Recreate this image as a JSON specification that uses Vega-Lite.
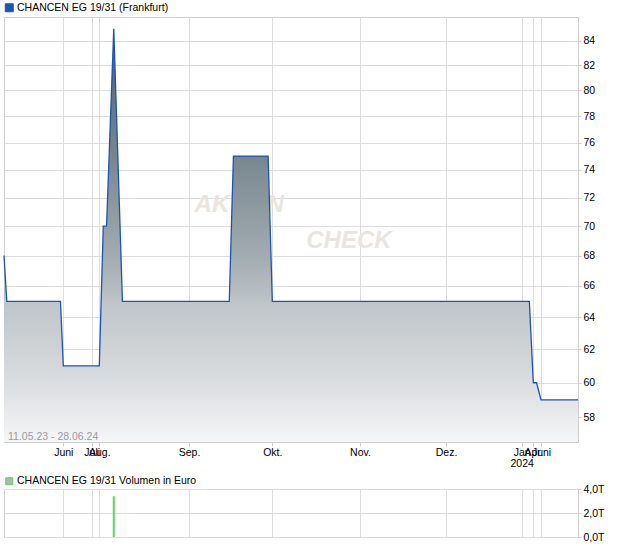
{
  "$schema": "https://vega.github.io/schema/vega-lite/v6.json",
  "background": "white",
  "padding": {"left": 0, "top": 2, "right": 0, "bottom": 0},
  "spacing": 6,
  "config": {
    "font": "Liberation Sans",
    "view": {"stroke": "#cfcfcf"},
    "axis": {"labelFont": "Liberation Sans", "labelFontSize": 10.5, "labelColor": "#000000", "gridColor": "#dddddd", "tickColor": "#cfcfcf", "domain": false, "title": null},
    "legend": {"labelFont": "Liberation Sans", "labelFontSize": 10.5, "labelColor": "#000000", "labelLimit": 400}
  },
  "resolve": {"scale": {"color": "independent", "x": "independent", "y": "independent"}, "legend": {"color": "independent"}},
  "datasets": {
    "price": [
      {"date": "2023-05-11T00:00:00Z", "close": 68},
      {"date": "2023-05-12T00:00:00Z", "close": 65},
      {"date": "2023-05-31T00:00:00Z", "close": 65},
      {"date": "2023-06-01T00:00:00Z", "close": 61},
      {"date": "2023-08-01T00:00:00Z", "close": 61},
      {"date": "2023-08-02T09:00:00Z", "close": 70},
      {"date": "2023-08-03T12:00:00Z", "close": 70},
      {"date": "2023-08-06T00:00:00Z", "close": 85},
      {"date": "2023-08-09T00:00:00Z", "close": 65},
      {"date": "2023-09-15T12:00:00Z", "close": 65},
      {"date": "2023-09-17T00:00:00Z", "close": 75},
      {"date": "2023-09-29T12:00:00Z", "close": 75},
      {"date": "2023-10-01T00:00:00Z", "close": 65},
      {"date": "2024-03-01T00:00:00Z", "close": 65},
      {"date": "2024-04-01T00:00:00Z", "close": 60},
      {"date": "2024-04-27T00:00:00Z", "close": 60},
      {"date": "2024-06-01T00:00:00Z", "close": 59},
      {"date": "2024-06-28T00:00:00Z", "close": 59}
    ],
    "volume": [
      {"date": "2023-08-06T00:00:00Z", "vol": 3400}
    ]
  },
  "vconcat": [
    {
      "width": 574,
      "height": 425,
      "title": {"text": "11.05.23 - 28.06.24", "orient": "bottom", "anchor": "start", "frame": "group", "offset": -36.5, "dx": 4, "baseline": "top", "font": "Liberation Sans", "fontSize": 10.5, "fontWeight": "normal", "color": "#9a9aa4"},
      "data": {"name": "price", "format": {"parse": {"date": "date"}}},
      "encoding": {
        "x": {
          "field": "date", "type": "quantitative",
          "scale": {
            "type": "linear",
            "nice": false,
            "zero": false,
            "domain": [1683763200000, 1685577600000, 1688169600000, 1690848000000, 1693526400000, 1696118400000, 1698796800000, 1701388800000, 1704067200000, 1711929600000, 1717200000000, 1719532800000],
            "range": [0, 59.3, 87.7, 95.3, 185, 268.3, 356, 442, 517.7, 529.3, 537, 574]
          },
          "axis": {
            "values": [1685577600000, 1688169600000, 1690848000000, 1693526400000, 1696118400000, 1698796800000, 1701388800000, 1704067200000, 1711929600000, 1717200000000],
            "labelExpr": "utcmonth(datum.value) == 0 ? ['Jan', utcFormat(datum.value, '%Y')] : ['Jan','Feb.','März','Apr.','Mai','Juni','Juli','Aug.','Sep.','Okt.','Nov.','Dez.'][utcmonth(datum.value)]",
            "labelAlign": "center",
            "labelOverlap": false,
            "labelFlush": false,
            "labelBound": false,
            "tickSize": 4,
            "labelPadding": 1,
            "labelLineHeight": 11,
            "grid": true
          }
        },
        "y": {
          "field": "close", "type": "quantitative",
          "scale": {"type": "log", "domain": [56.6, 86], "nice": false},
          "axis": {
            "orient": "right",
            "values": [58, 60, 62, 64, 66, 68, 70, 72, 74, 76, 78, 80, 82, 84],
            "format": "d",
            "tickSize": 3,
            "labelPadding": 2,
            "grid": true
          }
        }
      },
      "layer": [
        {
          "transform": [{"filter": "datum.close == 85"}],
          "mark": {"type": "text", "align": "left", "baseline": "middle", "fontSize": 24, "fontStyle": "italic", "fontWeight": "bold", "color": "#e9e5df", "text": "AKTIEN"},
          "encoding": {
            "x": {"datum": 1693699200000, "type": "quantitative"},
            "y": {"datum": 71.5, "type": "quantitative"}
          }
        },
        {
          "transform": [{"filter": "datum.close == 85"}],
          "mark": {"type": "text", "align": "left", "baseline": "middle", "fontSize": 24, "fontStyle": "italic", "fontWeight": "bold", "color": "#e9e5df", "text": "CHECK"},
          "encoding": {
            "x": {"datum": 1697155200000, "type": "quantitative"},
            "y": {"datum": 69.0, "type": "quantitative"}
          }
        },
        {
          "mark": {
            "type": "area",
            "color": {
              "gradient": "linear", "x1": 0, "y1": 0, "x2": 0, "y2": 1,
              "stops": [
                {"offset": 0, "color": "#4e6070"},
                {"offset": 0.31, "color": "#78878f"},
                {"offset": 0.56, "color": "#a4adb2"},
                {"offset": 0.67, "color": "#c0c6ca"},
                {"offset": 0.85, "color": "#d9dcdf"},
                {"offset": 1, "color": "#f5f6f7"}
              ]
            }
          },
          "encoding": {"y2": {"datum": 56.6}}
        },
        {
          "mark": {"type": "line", "strokeWidth": 1.3},
          "encoding": {
            "color": {
              "datum": "CHANCEN EG 19/31 (Frankfurt)",
              "type": "nominal",
              "scale": {"range": ["#1c54b4"]},
              "legend": {
                "orient": "none", "legendX": 0, "legendY": -14.5, "title": null,
                "symbolType": "square", "symbolSize": 64, "labelOffset": 2.5, "padding": 0,
                "encode": {"symbols": {"update": {"fill": {"value": "#1c54b4"}, "stroke": {"value": "#333333"}, "strokeWidth": {"value": 1}, "opacity": {"value": 1}}}}
              }
            }
          }
        }
      ]
    },
    {
      "width": 574,
      "height": 48,
      "data": {"name": "volume", "format": {"parse": {"date": "date"}}},
      "mark": {"type": "rule", "strokeWidth": 2},
      "encoding": {
        "x": {
          "field": "date", "type": "quantitative",
          "scale": {
            "type": "linear",
            "nice": false,
            "zero": false,
            "domain": [1683763200000, 1685577600000, 1688169600000, 1690848000000, 1693526400000, 1696118400000, 1698796800000, 1701388800000, 1704067200000, 1711929600000, 1717200000000, 1719532800000],
            "range": [0, 59.3, 87.7, 95.3, 185, 268.3, 356, 442, 517.7, 529.3, 537, 574]
          },
          "axis": {
            "values": [1685577600000, 1688169600000, 1690848000000, 1693526400000, 1696118400000, 1698796800000, 1701388800000, 1704067200000, 1711929600000, 1717200000000],
            "labels": false,
            "ticks": false,
            "grid": true
          }
        },
        "y": {
          "field": "vol", "type": "quantitative",
          "scale": {"domain": [0, 4000], "nice": false},
          "axis": {
            "orient": "right",
            "values": [0, 2000, 4000],
            "labelExpr": "replace(format(datum.value / 1000, '.1f'), '.', ',') + 'T'",
            "tickSize": 3,
            "labelPadding": 2,
            "grid": true
          }
        },
        "y2": {"datum": 0},
        "color": {
          "datum": "CHANCEN EG 19/31 Volumen in Euro",
          "type": "nominal",
          "scale": {"range": ["#5cd65c"]},
          "legend": {
            "orient": "none", "legendX": 0, "legendY": -13, "title": null,
            "symbolType": "square", "symbolSize": 49, "labelOffset": 2.5, "padding": 0,
            "encode": {"symbols": {"update": {"fill": {"value": "#b4b4b4"}, "stroke": {"value": "#444444"}, "strokeWidth": {"value": 1}, "opacity": {"value": 1}}}}
          }
        }
      }
    }
  ]
}
